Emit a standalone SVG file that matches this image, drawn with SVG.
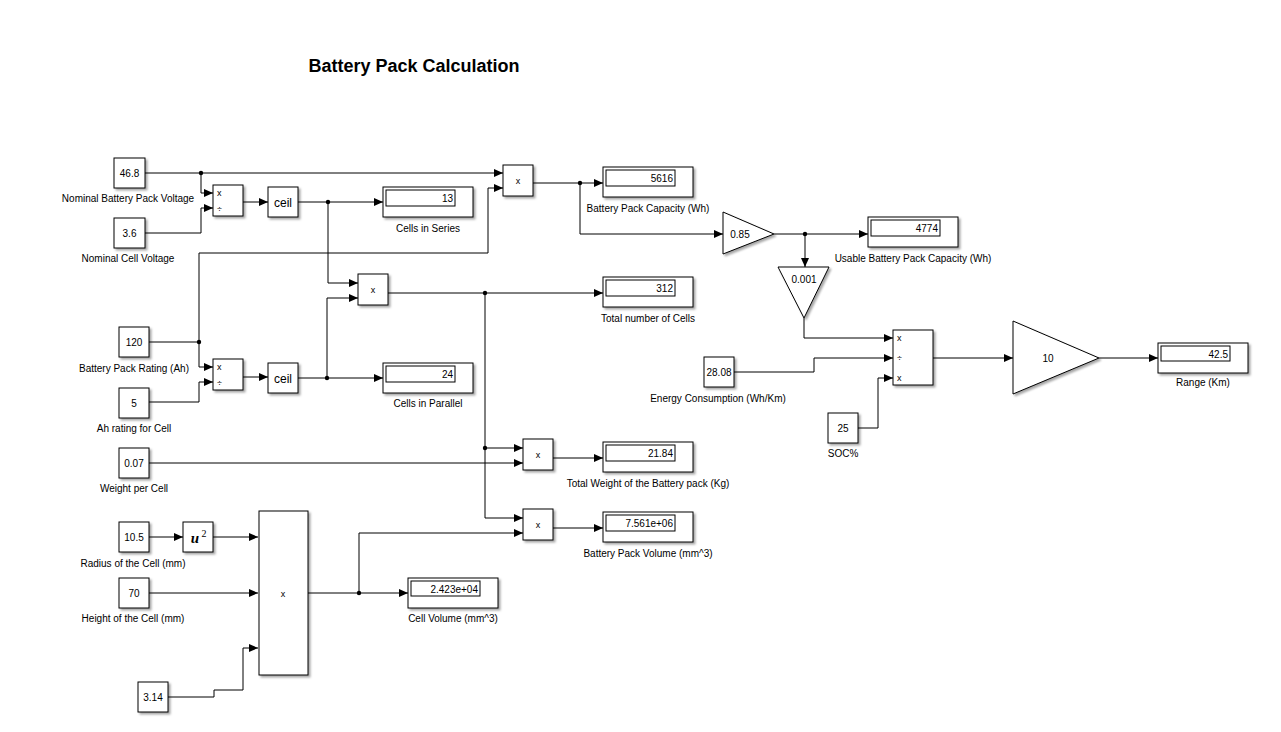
<svg xmlns="http://www.w3.org/2000/svg" width="1281" height="732" viewBox="0 0 1281 732">
<style>
text{font-family:"Liberation Sans",Arial,sans-serif;fill:#000}
.lbl{font-size:10px;text-anchor:middle}
.val{font-size:10px;text-anchor:middle}
.dv{font-size:10px;text-anchor:end}
.sym{font-size:9px}
.blk{fill:#fff;stroke:#000;stroke-width:1;filter:url(#sh)}
.in{fill:#fff;stroke:#000;stroke-width:1}
.wire{fill:none;stroke:#000;stroke-width:1}
.arr{marker-end:url(#ah)}
.dot{fill:#000}
.title{font-size:18px;font-weight:bold;text-anchor:middle}
</style>
<defs>
<filter id="sh" x="-20%" y="-20%" width="150%" height="150%">
<feDropShadow dx="2" dy="2" stdDeviation="1.2" flood-color="#000" flood-opacity="0.35"/>
</filter>
<marker id="ah" markerUnits="userSpaceOnUse" markerWidth="9" markerHeight="8" refX="9" refY="4" orient="auto">
<path d="M0,0 L9,4 L0,8 z" fill="#000"/>
</marker>
</defs>
<rect x="0" y="0" width="1281" height="732" fill="#fff"/>
<text class="title" x="414" y="72">Battery Pack Calculation</text>

<g id="connectors">
<path class="wire arr" d="M145,173 H503"/>
<path class="wire arr" d="M201,173 V193 H213"/>
<path class="wire arr" d="M145,233 H201 V208 H213"/>
<path class="wire arr" d="M243,202 H268"/>
<path class="wire arr" d="M298,202 H383"/>
<path class="wire arr" d="M328,202 V283 H358"/>
<path class="wire arr" d="M148,342 H199 V367 H213"/>
<path class="wire arr" d="M199,342 V253 H488 V188 H503"/>
<path class="wire arr" d="M148,402 H199 V382 H213"/>
<path class="wire arr" d="M243,377 H268"/>
<path class="wire arr" d="M298,378 H383"/>
<path class="wire arr" d="M327,378 V298 H358"/>
<path class="wire arr" d="M388,293 H603"/>
<path class="wire arr" d="M485,293 V518 H523"/>
<path class="wire arr" d="M485,448 H523"/>
<path class="wire arr" d="M148,463 H523"/>
<path class="wire arr" d="M553,458 H603"/>
<path class="wire arr" d="M553,528 H603"/>
<path class="wire arr" d="M148,537 H183"/>
<path class="wire arr" d="M213,537 H258"/>
<path class="wire arr" d="M148,593 H258"/>
<path class="wire arr" d="M168,697 H214 V690 H243 V648 H258"/>
<path class="wire arr" d="M308,593 H408"/>
<path class="wire arr" d="M359,593 V533 H523"/>
<path class="wire arr" d="M533,183 H603"/>
<path class="wire arr" d="M580,183 V234 H723"/>
<path class="wire arr" d="M774,234 H868"/>
<path class="wire arr" d="M805,234 V267"/>
<path class="wire arr" d="M804,318 V338 H893"/>
<path class="wire arr" d="M734,372 H814 V358 H893"/>
<path class="wire arr" d="M858,428 H878 V378 H893"/>
<path class="wire arr" d="M933,358 H1013"/>
<path class="wire arr" d="M1099,358 H1158"/>
<circle class="dot" cx="201" cy="173" r="2.2"/>
<circle class="dot" cx="328" cy="202" r="2.2"/>
<circle class="dot" cx="199" cy="342" r="2.2"/>
<circle class="dot" cx="327" cy="378" r="2.2"/>
<circle class="dot" cx="485" cy="293" r="2.2"/>
<circle class="dot" cx="485" cy="448" r="2.2"/>
<circle class="dot" cx="359" cy="593" r="2.2"/>
<circle class="dot" cx="580" cy="183" r="2.2"/>
<circle class="dot" cx="805" cy="234" r="2.2"/>
</g>

<g id="c_nominal_pack_voltage">
<rect class="blk" x="114" y="158" width="31" height="30"/>
<text class="val" x="129.5" y="176.5">46.8</text>
<text class="lbl" x="128" y="201.5">Nominal Battery Pack Voltage</text>
</g>
<g id="c_nominal_cell_voltage">
<rect class="blk" x="114" y="218" width="31" height="30"/>
<text class="val" x="129.5" y="236.5">3.6</text>
<text class="lbl" x="128" y="261.5">Nominal Cell Voltage</text>
</g>
<g id="div_series">
<rect class="blk" x="213" y="185" width="30" height="31"/>
<text class="sym" x="217" y="196">x</text>
<text class="sym" x="217" y="212">÷</text>
</g>
<g id="ceil_series">
<rect class="blk" x="268" y="187" width="30" height="30"/>
<text x="283" y="206.5" style="font-size:12px;text-anchor:middle">ceil</text>
</g>
<g id="d_cells_series">
<rect class="blk" x="383" y="187" width="90" height="30"/>
<rect class="in" x="386" y="190" width="69" height="16"/>
<text class="dv" x="453" y="202">13</text>
<text class="lbl" x="428" y="231.5">Cells in Series</text>
</g>
<g id="prod_capacity">
<rect class="blk" x="503" y="165" width="30" height="31"/>
<text class="sym" x="518" y="184" style="text-anchor:middle">x</text>
</g>
<g id="d_capacity">
<rect class="blk" x="603" y="167" width="90" height="30"/>
<rect class="in" x="606" y="170" width="69" height="16"/>
<text class="dv" x="673" y="182">5616</text>
<text class="lbl" x="648" y="211.5">Battery Pack Capacity (Wh)</text>
</g>
<g id="gain_085">
<path class="blk" d="M723,212 L774,234 L723,254 z"/>
<text class="val" x="740" y="237.5">0.85</text>
</g>
<g id="d_usable">
<rect class="blk" x="868" y="217" width="90" height="30"/>
<rect class="in" x="871" y="220" width="69" height="16"/>
<text class="dv" x="938" y="232">4774</text>
<text class="lbl" x="913" y="261.5">Usable Battery Pack Capacity (Wh)</text>
</g>
<g id="gain_0001">
<path class="blk" d="M778,267 L829,267 L804,318 z"/>
<text class="val" x="804" y="283">0.001</text>
</g>
<g id="prod_mid">
<rect class="blk" x="358" y="274" width="30" height="31"/>
<text class="sym" x="373" y="293" style="text-anchor:middle">x</text>
</g>
<g id="d_total_cells">
<rect class="blk" x="603" y="277" width="90" height="30"/>
<rect class="in" x="606" y="280" width="69" height="16"/>
<text class="dv" x="673" y="292">312</text>
<text class="lbl" x="648" y="321.5">Total number of Cells</text>
</g>
<g id="c_pack_rating">
<rect class="blk" x="119" y="327" width="30" height="30"/>
<text class="val" x="134" y="345.5">120</text>
<text class="lbl" x="134" y="371.5">Battery Pack Rating (Ah)</text>
</g>
<g id="c_ah_cell">
<rect class="blk" x="119" y="388" width="30" height="30"/>
<text class="val" x="134" y="406.5">5</text>
<text class="lbl" x="134" y="431.5">Ah rating for Cell</text>
</g>
<g id="div_parallel">
<rect class="blk" x="213" y="359" width="30" height="31"/>
<text class="sym" x="217" y="370">x</text>
<text class="sym" x="217" y="386">÷</text>
</g>
<g id="ceil_parallel">
<rect class="blk" x="268" y="363" width="30" height="30"/>
<text x="283" y="382.5" style="font-size:12px;text-anchor:middle">ceil</text>
</g>
<g id="d_cells_parallel">
<rect class="blk" x="383" y="363" width="90" height="30"/>
<rect class="in" x="386" y="366" width="69" height="16"/>
<text class="dv" x="453" y="378">24</text>
<text class="lbl" x="428" y="406.5">Cells in Parallel</text>
</g>
<g id="c_energy">
<rect class="blk" x="704" y="357" width="30" height="30"/>
<text class="val" x="719" y="375.5">28.08</text>
<text class="lbl" x="718" y="401.5">Energy Consumption (Wh/Km)</text>
</g>
<g id="c_soc">
<rect class="blk" x="828" y="413" width="30" height="30"/>
<text class="val" x="843" y="431.5">25</text>
<text class="lbl" x="843" y="456.5">SOC%</text>
</g>
<g id="prod_range">
<rect class="blk" x="893" y="330" width="40" height="55"/>
<text class="sym" x="897" y="341">x</text>
<text class="sym" x="897" y="361">÷</text>
<text class="sym" x="897" y="381">x</text>
</g>
<g id="gain_10">
<path class="blk" d="M1013,321 L1099,358 L1013,394 z"/>
<text class="val" x="1048" y="361.5">10</text>
</g>
<g id="d_range">
<rect class="blk" x="1158" y="343" width="90" height="30"/>
<rect class="in" x="1161" y="346" width="69" height="15"/>
<text class="dv" x="1228" y="357.5">42.5</text>
<text class="lbl" x="1203" y="385.5">Range (Km)</text>
</g>
<g id="c_weight_cell">
<rect class="blk" x="119" y="448" width="30" height="30"/>
<text class="val" x="134" y="466.5">0.07</text>
<text class="lbl" x="134" y="491.5">Weight per Cell</text>
</g>
<g id="prod_weight">
<rect class="blk" x="523" y="439" width="30" height="31"/>
<text class="sym" x="538" y="458" style="text-anchor:middle">x</text>
</g>
<g id="d_weight">
<rect class="blk" x="603" y="442" width="90" height="30"/>
<rect class="in" x="606" y="445" width="69" height="16"/>
<text class="dv" x="673" y="457">21.84</text>
<text class="lbl" x="648" y="486.5">Total Weight of the Battery pack (Kg)</text>
</g>
<g id="prod_volume">
<rect class="blk" x="523" y="509" width="30" height="31"/>
<text class="sym" x="538" y="528" style="text-anchor:middle">x</text>
</g>
<g id="d_pack_volume">
<rect class="blk" x="603" y="512" width="90" height="30"/>
<rect class="in" x="606" y="515" width="69" height="16"/>
<text class="dv" x="673" y="527">7.561e+06</text>
<text class="lbl" x="648" y="556.5">Battery Pack Volume (mm^3)</text>
</g>
<g id="c_radius">
<rect class="blk" x="119" y="522" width="30" height="30"/>
<text class="val" x="134" y="540.5">10.5</text>
<text class="lbl" x="133" y="566.5">Radius of the Cell (mm)</text>
</g>
<g id="square">
<rect class="blk" x="183" y="522" width="30" height="30"/>
<text x="195" y="543" style="font-family:'Liberation Serif','Times New Roman',serif;font-size:15px;font-style:italic;font-weight:bold;text-anchor:middle">u</text>
<text x="204" y="537" style="font-family:'Liberation Serif','Times New Roman',serif;font-size:10px;text-anchor:middle">2</text>
</g>
<g id="c_height">
<rect class="blk" x="119" y="578" width="30" height="30"/>
<text class="val" x="134" y="596.5">70</text>
<text class="lbl" x="133" y="621.5">Height of the Cell (mm)</text>
</g>
<g id="c_pi">
<rect class="blk" x="138" y="682" width="30" height="30"/>
<text class="val" x="153" y="700.5">3.14</text>
</g>
<g id="prod_cell_volume">
<rect class="blk" x="259" y="511" width="49" height="164"/>
<text class="sym" x="283" y="597" style="text-anchor:middle">x</text>
</g>
<g id="d_cell_volume">
<rect class="blk" x="408" y="578" width="90" height="30"/>
<rect class="in" x="411" y="581" width="69" height="15"/>
<text class="dv" x="478" y="592.5">2.423e+04</text>
<text class="lbl" x="453" y="621.5">Cell Volume (mm^3)</text>
</g>
</svg>
